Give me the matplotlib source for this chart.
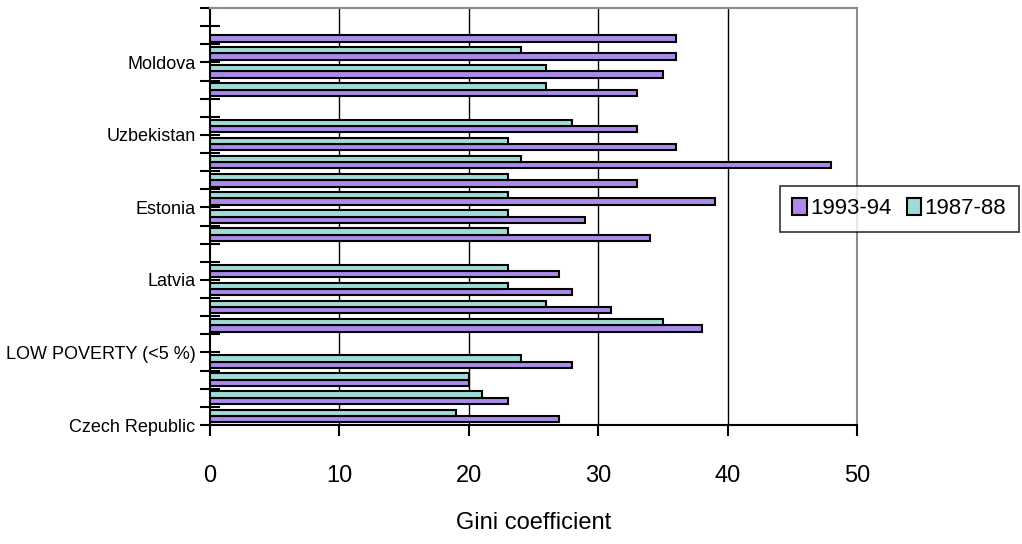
import numpy as np
import matplotlib
matplotlib.use("Agg")
import matplotlib.pyplot as plt
from matplotlib import font_manager

# slots listed bottom-up, np.nan = no bar
gini_1987 = [19, 21, 20, 24, np.nan, 35, 26, 23, 23, np.nan, 23, 23,
             23, 23, 24, 23, 28, np.nan, 26, 26, 24, np.nan, np.nan]
gini_1993 = [27, 23, 20, 28, np.nan, 38, 31, 28, 27, np.nan, 34, 29,
             39, 33, 48, 36, 33, np.nan, 33, 35, 36, 36, np.nan]

# labels sit on the slot boundaries, every 4th boundary
boundary_labels = ["Czech Republic", "", "", "", "LOW POVERTY (<5 %)", "", "", "",
                   "Latvia", "", "", "", "Estonia", "", "", "",
                   "Uzbekistan", "", "", "", "Moldova", "", "", ""]

purple = "#AB8AEA"
teal = "#9FDCD8"

names = {f.name for f in font_manager.fontManager.ttflist}
if "Liberation Sans Narrow" in names:
    narrow, narrow_size = "Liberation Sans Narrow", 15
else:
    narrow, narrow_size = "Liberation Sans", 13
plt.rcParams["font.family"] = ["Liberation Sans", "DejaVu Sans"]

fig = plt.figure(figsize=(10.22, 5.44), dpi=100)
ax = fig.add_axes([210 / 1022, 1 - 425 / 544, (857 - 210) / 1022, (425 - 8) / 544])

y = np.arange(len(gini_1993))
h = 0.35
ax.barh(y - h / 2, gini_1993, height=h, color=purple, edgecolor="black",
        linewidth=1.5, label="1993-94", zorder=3)
ax.barh(y + h / 2, gini_1987, height=h, color=teal, edgecolor="black",
        linewidth=1.5, label="1987-88", zorder=3)

ax.set_xlim(0, 50)
ax.set_ylim(-0.5, len(y) - 0.5)
ax.set_xticks(range(0, 51, 10))
ax.set_yticks(np.arange(len(boundary_labels)) - 0.5)
ax.set_yticklabels(boundary_labels, fontsize=narrow_size, family=narrow)
ax.tick_params(axis="y", direction="inout", length=15, width=1.5, pad=3)
ax.tick_params(axis="x", direction="out", length=8, width=1.5, pad=21, labelsize=17)

for v in range(10, 50, 10):
    ax.axvline(v, color="black", linewidth=1, zorder=1)

ax.spines["left"].set_linewidth(1.5)
ax.spines["bottom"].set_linewidth(1.5)
ax.spines["top"].set_color("#8c8c8c")
ax.spines["right"].set_color("#8c8c8c")
ax.spines["top"].set_linewidth(1.5)
ax.spines["right"].set_linewidth(1.5)

ax.set_xlabel("Gini coefficient", fontsize=17, labelpad=18)

leg = fig.legend(loc="upper left", bbox_to_anchor=(780 / 1022, 1 - 186 / 544),
                 ncol=2, fontsize=16, frameon=True, fancybox=False,
                 handlelength=0.65, handleheight=0.8, handletextpad=0.15,
                 columnspacing=0.7, borderpad=0.55, borderaxespad=0)
leg.get_frame().set_edgecolor("black")
leg.get_frame().set_linewidth(1.2)

fig.savefig("out.png", dpi=100)
